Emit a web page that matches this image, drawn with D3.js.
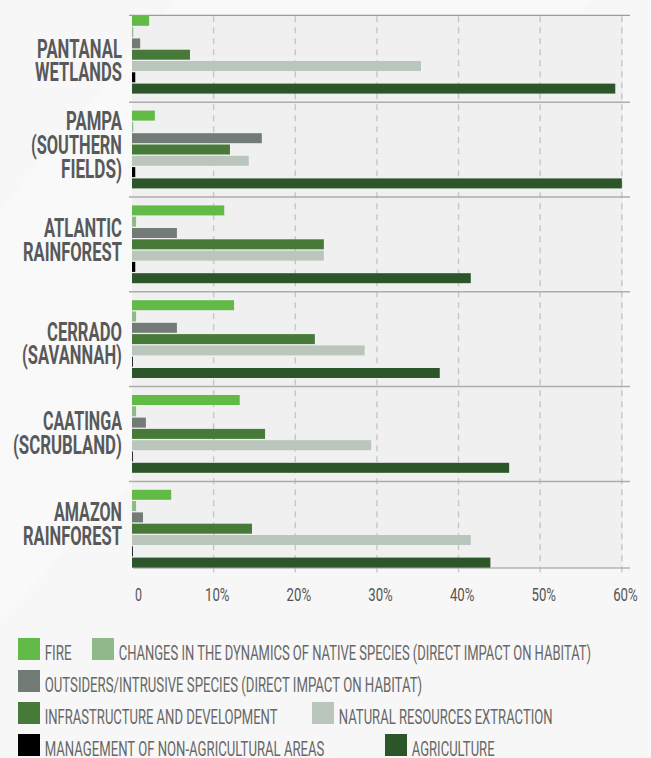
<!DOCTYPE html>
<html>
<head>
<meta charset="utf-8">
<script src="https://cdn.jsdelivr.net/npm/d3@7"></script>
<style>
  html, body { margin: 0; padding: 0; background: #f7f7f7; }
  svg { display: block; }
</style>
</head>
<body>
<svg id="chart" width="651" height="758"></svg>
<script>
// Threats to Brazilian biomes, share of impact by cause (%)
const regions = [
  "PANTANAL\nWETLANDS",
  "PAMPA\n(SOUTHERN\nFIELDS)",
  "ATLANTIC\nRAINFOREST",
  "CERRADO\n(SAVANNAH)",
  "CAATINGA\n(SCRUBLAND)",
  "AMAZON\nRAINFOREST"
];

const seriesNames = [
  "FIRE",
  "CHANGES IN THE DYNAMICS OF NATIVE SPECIES (DIRECT IMPACT ON HABITAT)",
  "OUTSIDERS/INTRUSIVE SPECIES (DIRECT IMPACT ON HABITAT)",
  "INFRASTRUCTURE AND DEVELOPMENT",
  "NATURAL RESOURCES EXTRACTION",
  "MANAGEMENT OF NON-AGRICULTURAL AREAS",
  "AGRICULTURE"
];

const fire              = [2.1, 2.8, 11.3, 12.5, 13.2, 4.8];
const nativeDynamics    = [0.15, 0.15, 0.5, 0.5, 0.5, 0.5];
const outsiders         = [1.0, 15.9, 5.5, 5.5, 1.7, 1.35];
const infrastructure    = [7.1, 12.0, 23.5, 22.4, 16.3, 14.7];
const naturalResources  = [35.4, 14.3, 23.5, 28.5, 29.3, 41.5];
const nonAgriManagement = [0.4, 0.4, 0.4, 0.1, 0.1, 0.1];
const agriculture       = [59.2, 60.0, 41.5, 37.7, 46.2, 43.9];

const tickValues = [0, 10, 20, 30, 40, 50, 60];
const tickLabels = ["0", "10%", "20%", "30%", "40%", "50%", "60%"];

const seriesValues = [fire, nativeDynamics, outsiders, infrastructure,
                      naturalResources, nonAgriManagement, agriculture];
const colors = ["#62bb47", "#90b98a", "#727b75", "#477a39", "#bac5bb", "#000000", "#2c5529"];

// ---- layout ----
const svg = d3.select("#chart");
const W = 651, H = 758;
const plotTop = 15.3, plotBottom = 568, plotLeft = 132, plotRight = 623;
const lineRight = 630;

const x = d3.scaleLinear().domain([0, 60]).range([132, 621.8]);
const y = d3.scaleBand().domain(regions).range([7.4, 576.2]).padding(0);
const yInner = d3.scaleBand().domain(seriesNames).range([8.4, 86.2]).paddingInner(0.115);

// Draws a text and squeezes it horizontally to a given width (condensed look)
function condensedText(parent, str, px, py, width, anchor, attrs) {
  const t = parent.append("text").text(str);
  Object.entries(attrs).forEach(([k, v]) => t.attr(k, v));
  const natural = t.node().getComputedTextLength() || width;
  const sx = width / natural;
  const shift = anchor === "end" ? -width : anchor === "middle" ? -width / 2 : 0;
  t.attr("transform", `translate(${px + shift},${py}) scale(${sx},1)`);
  return t;
}

// soft diagonal sheen in the page background
svg.append("rect").attr("width", W).attr("height", H).attr("fill", "#f7f7f7");
svg.append("path")
  .attr("d", "M175,0 L593,0 L0,620 L0,210 Z")
  .attr("fill", "#f9f9f9");

// plot panel
svg.append("rect")
  .attr("x", plotLeft).attr("y", plotTop)
  .attr("width", plotRight - plotLeft).attr("height", plotBottom - plotTop)
  .attr("fill", "#f0f0f0");

// dashed vertical gridlines
svg.append("g").selectAll("line")
  .data(tickValues.filter(d => d > 0))
  .join("line")
  .attr("x1", d => x(d)).attr("x2", d => x(d))
  .attr("y1", plotTop + 1).attr("y2", 576)
  .attr("stroke", "#c6c6c6")
  .attr("stroke-width", 1.4)
  .attr("stroke-dasharray", "6,5");

// top rule and separators between biomes
svg.append("line")
  .attr("x1", 129).attr("x2", lineRight)
  .attr("y1", plotTop).attr("y2", plotTop)
  .attr("stroke", "#9c9c9c").attr("stroke-width", 1.3);

svg.append("g").selectAll("line")
  .data(regions.slice(1))
  .join("line")
  .attr("x1", 129).attr("x2", lineRight)
  .attr("y1", d => y(d)).attr("y2", d => y(d))
  .attr("stroke", "#acacac").attr("stroke-width", 1.5);

// bottom axis line
svg.append("line")
  .attr("x1", 133).attr("x2", lineRight)
  .attr("y1", plotBottom).attr("y2", plotBottom)
  .attr("stroke", "#b4b4b4").attr("stroke-width", 1.5);

// bars
const groups = svg.append("g").selectAll("g")
  .data(regions)
  .join("g")
  .attr("transform", d => `translate(0,${y(d)})`);

groups.selectAll("rect")
  .data((r, i) => seriesNames.map((s, k) => ({ s, k, v: seriesValues[k][i] })))
  .join("rect")
  .attr("x", x(0))
  .attr("y", d => yInner(d.s))
  .attr("width", d => Math.max(0, x(d.v) - x(0)))
  .attr("height", yInner.bandwidth())
  .attr("fill", d => colors[d.k]);

// biome labels (condensed caps)
const labelFont = "'Roboto', 'DejaVu Sans', sans-serif";
const labelWidths = {
  "PANTANAL": 85, "WETLANDS": 87, "PAMPA": 56, "(SOUTHERN": 91, "FIELDS)": 61,
  "ATLANTIC": 78, "RAINFOREST": 99, "CERRADO": 75, "(SAVANNAH)": 100,
  "CAATINGA": 79, "(SCRUBLAND)": 109, "AMAZON": 68
};
const labelShift = [5.4, -4.6, -4.3, 4.0, -0.9, -5.0];
const capH = 18.5, lineH = 23.8;
const labelLayer = svg.append("g");

regions.forEach((r, i) => {
  const lines = r.split("\n");
  const blockH = capH + (lines.length - 1) * lineH;
  const cy = y(r) + y.bandwidth() / 2 + labelShift[i];
  const firstBase = cy - blockH / 2 + capH;
  lines.forEach((ln, j) => {
    condensedText(labelLayer, ln, 122, firstBase + j * lineH, labelWidths[ln], "end", {
      "font-family": labelFont,
      "font-weight": 700,
      "font-size": 26,
      "fill": "#58595b"
    });
  });
});

// x tick labels
const tickLayer = svg.append("g");
tickValues.forEach((v, i) => {
  condensedText(tickLayer, tickLabels[i], x(v) + (i === 0 ? 6.6 : 3.6), 600.5,
    i === 0 ? 7 : 24.5, "middle", {
      "font-family": labelFont,
      "font-size": 19,
      "fill": "#555"
    });
});

// legend
const legendRows = [[0, 1], [2], [3, 4], [5, 6]];
const legendCols = [[18, 92], [18], [18, 312], [18, 385]];
const legendTextW = [27, 473, 378, 233, 214, 280, 83];
const legendLayer = svg.append("g");
legendRows.forEach((row, ri) => {
  const top = 638 + ri * 32;
  row.forEach((k, ci) => {
    const lx = legendCols[ri][ci];
    legendLayer.append("rect")
      .attr("x", lx).attr("y", top)
      .attr("width", 22).attr("height", 22)
      .attr("fill", colors[k]);
    condensedText(legendLayer, seriesNames[k], lx + 26.7, top + 22, legendTextW[k], "start", {
      "font-family": labelFont,
      "font-size": 19.5,
      "fill": "#676767"
    });
  });
});
</script>
</body>
</html>
